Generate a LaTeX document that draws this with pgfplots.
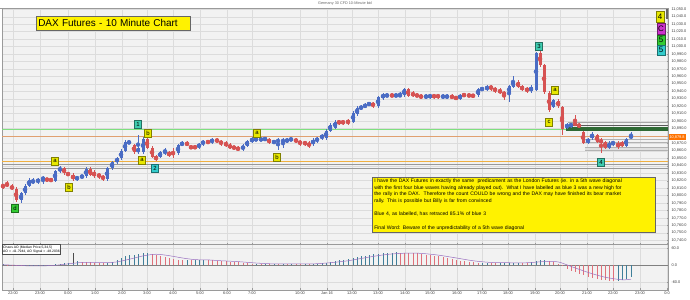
\documentclass[border=0pt]{standalone}
\usepackage{fontspec}
\setmainfont{Liberation Sans}
\usepackage{pgfplots}
\pgfplotsset{compat=1.18}
\usepackage{pgfplotstable}

\definecolor{bg}{HTML}{F2F2F2}
\definecolor{gridc}{HTML}{DCDCDC}
\definecolor{frame}{HTML}{9A9A9A}
\definecolor{cup}{HTML}{4A6CC4}
\definecolor{cdn}{HTML}{D65252}
\definecolor{aoup}{HTML}{3F7F9A}
\definecolor{aodn}{HTML}{E0707A}
\definecolor{sigc}{HTML}{9A6FC0}
\definecolor{lgreen}{HTML}{7FE07F}
\definecolor{ltan}{HTML}{E0A070}
\definecolor{lorange}{HTML}{F0B040}
\definecolor{dgreen}{HTML}{2F6A35}
\definecolor{wy}{HTML}{E8E800}
\definecolor{wt}{HTML}{3FCCB0}
\definecolor{wc}{HTML}{33CCCC}
\definecolor{wg}{HTML}{33CC33}
\definecolor{wm}{HTML}{CC33CC}

\pgfplotstableread{
x o h l c
3 10814 10816 10809 10812
7 10816 10820 10811 10813
12 10813 10815 10807 10809
16 10809 10811 10791 10794
21 10794 10805 10790 10803
25 10803 10815 10801 10813
29 10813 10823 10811 10821
33 10817 10823 10815 10821
38 10818 10824 10816 10822
43 10821 10827 10815 10825
47 10822 10824 10819 10821
51 10822 10824 10818 10820
55 10820 10835 10818 10833
60 10833 10840 10831 10837
64 10837 10839 10828 10830
68 10830 10832 10826 10828
73 10828 10830 10820 10822
77 10822 10827 10820 10825
82 10825 10828 10823 10826
86 10826 10838 10824 10836
90 10836 10838 10826 10828
94 10832 10834 10824 10826
99 10829 10831 10823 10825
103 10826 10828 10820 10822
107 10822 10839 10820 10837
112 10837 10847 10835 10845
117 10845 10852 10843 10850
121 10850 10862 10848 10860
125 10860 10874 10858 10872
129 10871 10874 10869 10872
134 10868 10870 10856 10858
138 10858 10881 10856 10864
143 10858 10879 10856 10876
147 10876 10878 10862 10864
152 10864 10866 10850 10852
156 10852 10854 10847 10849
160 10852 10860 10850 10858
165 10857 10864 10855 10860
169 10858 10860 10852 10854
173 10858 10864 10850 10856
178 10857 10870 10855 10868
182 10868 10873 10866 10871
187 10871 10873 10866 10868
191 10866 10868 10862 10864
195 10866 10868 10862 10864
199 10865 10871 10863 10869
203 10869 10875 10867 10873
208 10873 10875 10869 10871
212 10872 10877 10870 10875
217 10875 10877 10871 10873
221 10873 10875 10867 10869
226 10871 10873 10865 10867
230 10868 10870 10862 10864
234 10865 10867 10862 10864
238 10864 10866 10860 10862
243 10862 10869 10860 10867
247 10867 10875 10865 10873
252 10873 10878 10871 10876
256 10875 10878 10873 10876
261 10875 10878 10873 10876
265 10875 10879 10873 10877
269 10876 10878 10869 10871
274 10871 10875 10869 10873
278 10872 10877 10861 10875
283 10872 10877 10864 10875
287 10873 10877 10871 10875
291 10875 10878 10873 10876
296 10875 10877 10871 10873
300 10873 10875 10867 10869
305 10872 10874 10867 10869
309 10871 10873 10864 10866
313 10869 10877 10867 10875
317 10873 10879 10871 10877
322 10877 10883 10875 10881
326 10877 10889 10875 10887
330 10887 10897 10885 10895
335 10891 10901 10889 10899
339 10900 10902 10895 10897
343 10900 10902 10895 10897
348 10901 10903 10895 10897
353 10899 10913 10897 10911
357 10909 10920 10907 10918
361 10917 10921 10915 10919
365 10919 10924 10917 10922
369 10922 10926 10920 10924
373 10924 10926 10918 10920
378 10920 10934 10918 10932
383 10931 10938 10929 10936
387 10934 10937 10932 10935
392 10935 10937 10932 10934
396 10934 10937 10932 10935
400 10934 10939 10932 10935
404 10935 10945 10933 10943
408 10943 10945 10932 10934
413 10938 10940 10932 10934
417 10935 10937 10932 10934
421 10934 10936 10930 10932
426 10932 10936 10930 10934
430 10932 10937 10930 10935
434 10935 10937 10930 10932
438 10935 10937 10930 10932
443 10932 10936 10930 10934
447 10932 10936 10930 10934
452 10934 10936 10929 10931
456 10932 10934 10928 10930
460 10930 10937 10928 10935
464 10936 10938 10932 10934
469 10935 10937 10932 10934
473 10935 10937 10931 10933
478 10935 10945 10933 10943
482 10942 10946 10940 10944
487 10943 10948 10941 10946
491 10947 10949 10941 10943
495 10944 10946 10938 10940
500 10942 10944 10936 10938
504 10939 10941 10928 10935
509 10938 10949 10926 10947
513 10946 10961 10944 10954
518 10952 10955 10944 10946
522 10947 10949 10940 10942
527 10944 10946 10938 10940
531 10940 10948 10938 10946
536 10942 10993 10940 10991
540 10991 10995 10973 10975
544 10975 10977 10937 10939
549 10938 10940 10912 10915
553 10919 10930 10917 10928
558 10927 10929 10918 10920
562 10919 10921 10881 10889
567 10892 10897 10890 10895
571 10893 10898 10891 10896
575 10897 10908 10893 10895
579 10895 10897 10891 10893
583 10885 10887 10869 10871
588 10871 10878 10869 10876
592 10877 10885 10875 10883
597 10881 10883 10870 10872
601 10875 10877 10857 10871
605 10872 10874 10862 10864
609 10864 10873 10862 10871
613 10869 10874 10867 10872
618 10871 10873 10863 10865
622 10871 10873 10865 10867
626 10867 10878 10865 10876
631 10878 10885 10876 10880
}\candles

\pgfplotstableread{
x v u
3 2 1
7 1 0
12 -1 0
16 -3 0
21 -4 0
25 -4 1
29 -3 1
33 -3 1
38 -2 1
43 -2 1
47 -1 1
51 0 1
55 2 1
60 5 1
64 7 1
68 8 1
73 10 1
77 13 1
82 11 0
86 10 0
90 9 0
94 8 0
99 7 0
103 6 0
107 8 1
112 12 1
117 17 1
121 24 1
125 30 1
129 35 1
134 37 1
138 39 1
143 41 1
147 42 1
152 40 0
156 37 0
160 33 0
165 29 0
169 25 0
173 21 0
178 19 0
182 18 0
187 18 1
191 17 0
195 18 1
199 18 1
203 18 1
208 17 0
212 16 0
217 15 0
221 14 0
226 13 0
230 12 0
234 11 0
238 10 0
243 8 0
247 6 0
252 5 0
256 5 1
261 4 0
265 4 1
269 4 0
274 4 1
278 4 0
283 4 1
287 4 0
291 4 1
296 3 0
300 3 0
305 3 1
309 3 0
313 3 1
317 4 1
322 6 1
326 8 1
330 11 1
335 14 1
339 17 1
343 19 1
348 20 1
353 23 1
357 27 1
361 30 1
365 33 1
369 36 1
373 38 1
378 40 1
383 42 1
387 43 1
392 44 1
396 45 1
400 44 0
404 44 0
408 43 0
413 42 0
417 41 0
421 39 0
426 37 0
430 35 0
434 33 0
438 30 0
443 27 0
447 24 0
452 21 0
456 18 0
460 15 0
464 13 0
469 11 0
473 10 0
478 8 0
482 8 1
487 8 1
491 8 0
495 7 0
500 7 1
504 7 1
509 7 1
513 8 1
518 8 1
522 8 0
527 8 0
531 9 1
536 13 1
540 16 1
544 17 1
549 15 0
553 10 0
558 4 0
562 -5 0
567 -14 0
571 -20 0
575 -26 0
579 -31 0
583 -36 0
588 -41 0
592 -45 0
597 -49 0
601 -52 0
605 -54 0
609 -56 0
613 -58 0
618 -57 1
622 -53 1
626 -48 1
631 -42 1
}\ao

\pgfplotstableread{
x s
3 1
16 -1
29 -3
43 -3
55 -1
68 4
82 9
94 9
107 8
117 11
129 20
143 32
156 38
169 33
182 25
195 19
208 18
221 15
238 12
256 7
274 4
296 4
313 4
330 8
348 15
361 23
378 33
392 39
408 42
421 41
438 35
456 25
473 15
491 9
509 8
527 8
544 12
558 11
571 -5
588 -26
605 -43
622 -52
631 -50
}\sig

\tikzset{wl/.style={draw=#1!55!black, fill=#1, minimum width=7bp, minimum height=8.5bp, inner sep=0pt, line width=0.4bp, font=\fontsize{6}{6}\selectfont}}
\newcommand{\wl}[4]{\node[wl=#3] at (#1bp,#2bp) {#4};}
% 1 for a rising candle, 0 for a falling one
\newcommand{\isup}{min(max(\thisrow{c}-\thisrow{o},0),1)}

\pgfplotsset{
  chartbase/.style={
    scale only axis, anchor=south west, width=666bp,
    xmin=2, xmax=668,
    axis background/.style={fill=bg},
    axis line style={frame, line width=0.5bp},
    xtick={13,40,68,95,122,147,173,200,227,252,300,327,352,378,405,430,457,482,508,535,560,587,613,640,667},
    grid=major, major grid style={gridc, line width=0.4bp},
    ytick pos=right, yticklabel pos=right,
    xtick pos=bottom,
    major tick length=1.5bp,
    tick style={frame, line width=0.3bp},
    ticklabel style={font=\fontsize{3.9}{4}\selectfont, text=black!75},
    scaled ticks=false,
    /pgf/number format/assume math mode=true,
  },
  candle/.style={#1, only marks, mark=none, forget plot,
    error bars/.cd, y dir=both, y explicit, error mark=none}
}

\begin{document}
\begin{tikzpicture}
\path[use as bounding box] (0,0) rectangle (690bp,300bp);
\fill[white] (0,0) rectangle (690bp,300bp);

% main price panel
\begin{axis}[chartbase,
  at={(2bp,56bp)}, height=236bp,
  ymin=10735, ymax=11051.8,
  ytick={10740,10750,...,10870,10890,10900,...,11050},
  extra y ticks={10880}, extra y tick labels={},
  extra y tick style={grid=major},
  xticklabels={},
  /pgf/number format/fixed,
  /pgf/number format/fixed zerofill,
  /pgf/number format/precision=1,
  /pgf/number format/1000 sep={,},
  clip=true]

% horizontal level lines
\addplot[lgreen, line width=1.2bp] coordinates {(2,10889) (668,10889)};
\addplot[ltan, line width=0.6bp] coordinates {(2,10880) (668,10880)};
\addplot[lorange, line width=0.8bp] coordinates {(2,10846) (668,10846)};
\addplot[gray!80, line width=0.6bp] coordinates {(2,10842) (668,10842)};
\addplot[gray!80, line width=0.6bp] coordinates {(2,10837) (668,10837)};
\addplot[gray!70, line width=0.5bp] coordinates {(568,10899) (668,10899)};
\addplot[gray!70!black, line width=0.5bp] coordinates {(568,10895) (668,10895)};
\addplot[dgreen, line width=3.2bp] coordinates {(566,10889.5) (668,10889.5)};
\addplot[fill=gray!25, draw=none] coordinates {(585,10864) (668,10864) (668,10858) (585,10858)} -- cycle;
\addplot[gray!60, line width=0.5bp] coordinates {(583,10876) (668,10876)};
\addplot[gray!60, line width=0.5bp] coordinates {(583,10871) (668,10871)};
\addplot[gray!60, line width=0.5bp] coordinates {(585,10865) (668,10865)};
\addplot[gray!60, line width=0.5bp] coordinates {(585,10861) (668,10861)};

% candles of the other colour are moved far outside the clipped x range
% wicks
\addplot[candle=cup, error bar style={color=cup, line width=0.5bp}]
  table[x expr={\thisrow{x}+5000*(1-\isup)}, y expr={(\thisrow{h}+\thisrow{l})/2}, y error expr={(\thisrow{h}-\thisrow{l})/2}] {\candles};
\addplot[candle=cdn, error bar style={color=cdn, line width=0.5bp}]
  table[x expr={\thisrow{x}+5000*\isup}, y expr={(\thisrow{h}+\thisrow{l})/2}, y error expr={(\thisrow{h}-\thisrow{l})/2}] {\candles};
% bodies
\addplot[candle=cup, error bar style={color=cup, line width=3bp}]
  table[x expr={\thisrow{x}+5000*(1-\isup)}, y expr={(\thisrow{o}+\thisrow{c})/2}, y error expr={abs(\thisrow{c}-\thisrow{o})/2}] {\candles};
\addplot[candle=cdn, error bar style={color=cdn, line width=3bp}]
  table[x expr={\thisrow{x}+5000*\isup}, y expr={(\thisrow{o}+\thisrow{c})/2}, y error expr={abs(\thisrow{c}-\thisrow{o})/2}] {\candles};
\end{axis}

% oscillator panel
\begin{axis}[chartbase,
  at={(2bp,10bp)}, height=46bp,
  ymin=-88, ymax=74,
  ytick={-60,0,60}, yticklabels={-60.0,0.0,60.0},
  xticklabels={22:00,23:00,0:00,1:00,2:00,3:00,4:00,5:00,6:00,7:00,10:00,Jan 16,12:00,13:00,14:00,15:00,16:00,17:00,18:00,19:00,20:00,21:00,22:00,23:00,0:0},
  xticklabel style={yshift=1.5bp},
  clip=true]
\addplot[gray, line width=0.4bp] coordinates {(2,0) (668,0)};
\addplot[ycomb, aoup, line width=0.6bp, mark=none] table[x expr={\thisrow{x}+5000*(1-\thisrow{u})}, y=v] {\ao};
\addplot[ycomb, aodn, line width=0.6bp, mark=none] table[x expr={\thisrow{x}+5000*\thisrow{u}}, y=v] {\ao};
\addplot[sigc, line width=0.5bp, smooth, tension=0.5, mark=none] table[x=x, y=s] {\sig};
\end{axis}

% header
\node[font=\fontsize{3.8}{4}\selectfont, text=black!60] at (345bp,296bp) {Germany 30 CFD 10-Minute bid};
\draw[frame, line width=0.5bp] (0.5bp,292bp) -- (668bp,292bp);

% title
\node[anchor=west, fill=yellow, draw=black!60, line width=0.5bp, text width=150bp, align=left,
  inner xsep=2bp, minimum height=14bp, font=\fontsize{10}{12}\selectfont] at (36bp,277bp) {DAX Futures - 10 Minute Chart};

% wave labels
\wl{15}{92}{wg}{d}
\wl{55}{139}{wy}{a}
\wl{69}{113}{wy}{b}
\wl{138}{176}{wt}{1}
\wl{148}{167}{wy}{b}
\wl{142}{140}{wy}{a}
\wl{155}{132}{wc}{2}
\wl{257}{167}{wy}{a}
\wl{277}{143}{wy}{b}
\wl{539}{254}{wt}{3}
\wl{555}{210}{wy}{a}
\wl{549}{178}{wy}{c}
\wl{601}{138}{wt}{4}

% right-hand legend boxes
\node[wl=wy, minimum width=8bp, minimum height=11bp, font=\fontsize{8}{8}\selectfont] at (660bp,283bp) {4};
\node[wl=wm, minimum width=8bp, minimum height=11bp, font=\fontsize{8}{8}\selectfont] at (661bp,271bp) {C};
\node[wl=wg, minimum width=8bp, minimum height=10bp, font=\fontsize{8}{8}\selectfont] at (661bp,260bp) {5};
\node[wl=wc, minimum width=8bp, minimum height=10bp, font=\fontsize{8}{8}\selectfont] at (661bp,250bp) {5};
\fill[black!60] (665.5bp,281bp) rectangle (667.5bp,291bp);

% current price tag
\node[anchor=west, fill=orange!90!red, text=white, inner xsep=1bp, inner ysep=0.5bp, minimum height=6bp,
  font=\fontsize{3.9}{4}\selectfont] at (668.3bp,163bp) {10,879.8};

% comment box
\node[anchor=north west, fill=yellow, draw=black!60, line width=0.5bp, text width=279bp, align=left,
  inner xsep=2bp, inner ysep=1.5bp, font=\fontsize{5.1}{6.7}\selectfont] at (372bp,123bp) {%
I have the DAX Futures in exactly the same\ \ predicament as the London Futures (ie. in a 5th wave diagonal\\
with the first four blue waves having already played out).\ \ What I have labelled as blue 3 was a new high for\\
the rally in the DAX.\ \ Therefore the count COULD be wrong and the DAX may have finished its bear market\\
rally. This is possible but Billy is far from convinced\\[6.7bp]
Blue 4, as labelled, has retraced 85.1\% of blue 3\\[6.7bp]
Final Word: Beware of the unpredictability of a 5th wave diagonal};

% AO tooltip
\node[anchor=north west, fill=white, draw=black!70, line width=0.4bp, align=left, inner sep=1bp,
  font=\fontsize{3.4}{3.9}\selectfont] at (2bp,55.5bp) {Chaos AO (Median Price,5,34,5)\\AO = -41.7944, AO Signal = -48.2036};
\draw[black!70, line width=0.4bp] (73bp,47bp) -- (73bp,37bp);
\end{tikzpicture}
\end{document}
